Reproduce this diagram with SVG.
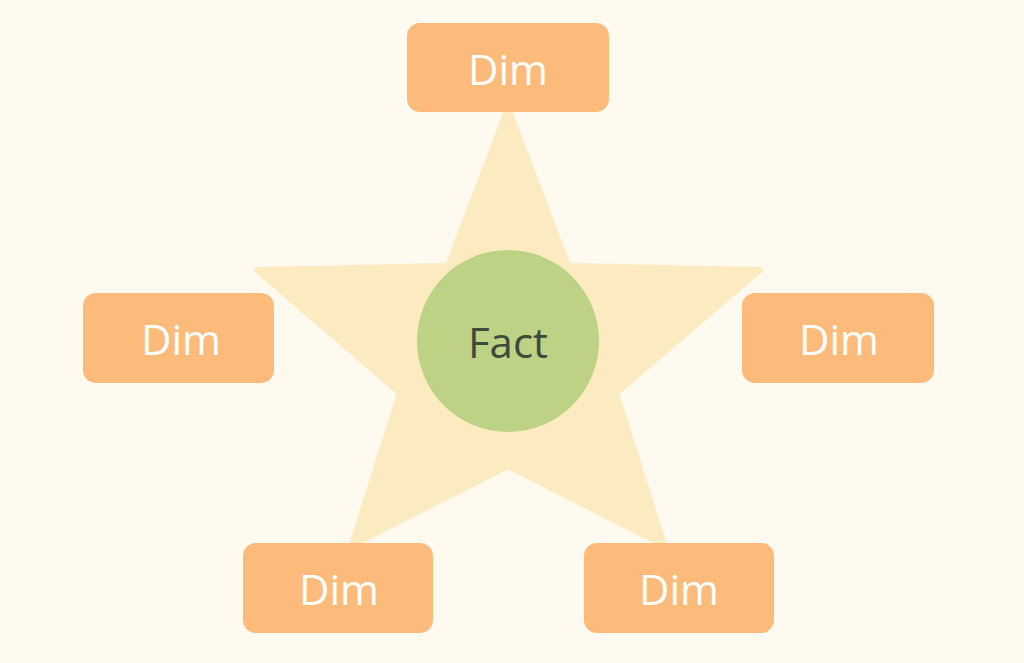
<svg xmlns="http://www.w3.org/2000/svg" width="1024" height="663" viewBox="0 0 1024 663">
<style>
.dim rect{fill:#FDBB7B}
.dim text{fill:#fff;font-family:"Open Sans","Liberation Sans",sans-serif;font-size:42px;text-anchor:middle;dominant-baseline:central}
</style>
<rect width="1024" height="663" fill="#FEFAF0"/>
<g id="star"><polygon points="508,108 568,266 760,270 616,393 664,545 508,466 352,545 400,393 257,270 448,266" fill="#FCEBC0" stroke="#FCEBC0" stroke-width="6" stroke-linejoin="round"/></g>
<g id="connectors"></g>
<g id="fact"><circle cx="508" cy="341" r="91" fill="#BDD285"/><text x="508" y="341" font-family="'Open Sans','Liberation Sans',sans-serif" font-size="42" fill="#3E4A3C" text-anchor="middle" dominant-baseline="central">Fact</text></g>
<g id="dim-top" class="dim"><rect x="407" y="23" width="202" height="89" rx="13"/><text x="508" y="68">Dim</text></g>
<g id="dim-left" class="dim"><rect x="83" y="293" width="191" height="90" rx="13"/><text x="181" y="338">Dim</text></g>
<g id="dim-right" class="dim"><rect x="742" y="293" width="192" height="90" rx="13"/><text x="839" y="338">Dim</text></g>
<g id="dim-bl" class="dim"><rect x="243" y="543" width="190" height="90" rx="13"/><text x="339" y="588">Dim</text></g>
<g id="dim-br" class="dim"><rect x="584" y="543" width="190" height="90" rx="13"/><text x="679" y="588">Dim</text></g>
</svg>
